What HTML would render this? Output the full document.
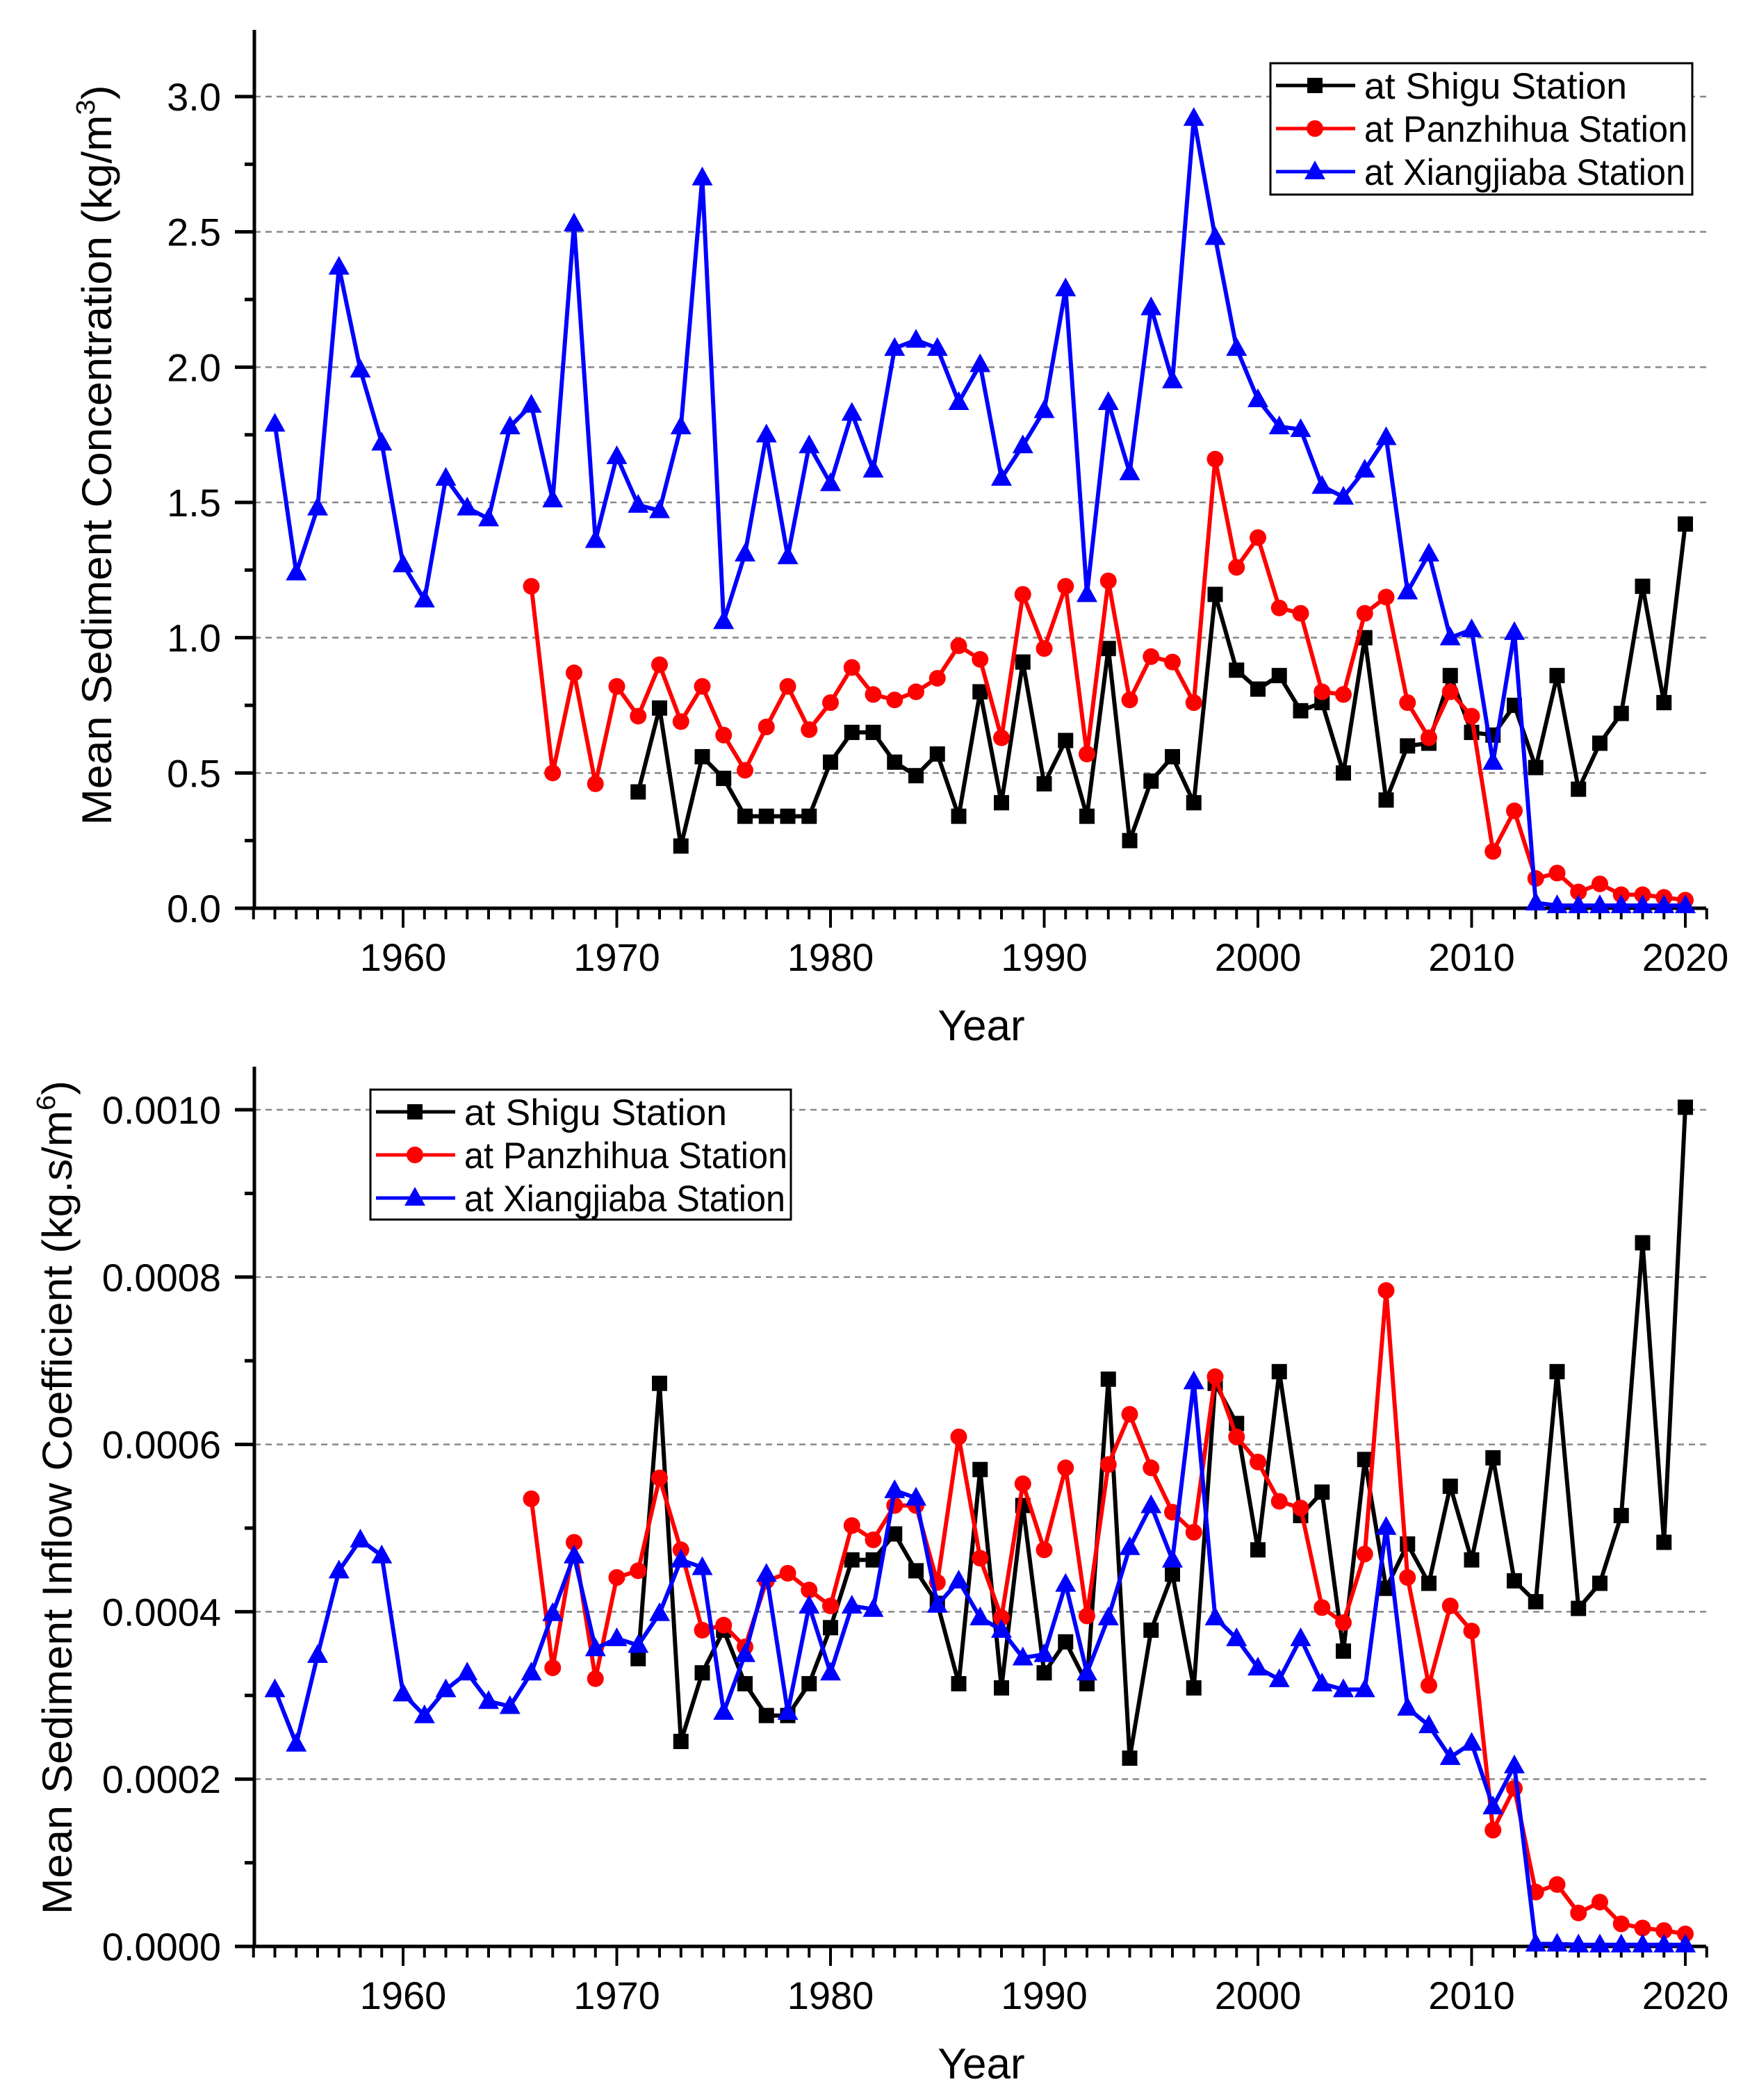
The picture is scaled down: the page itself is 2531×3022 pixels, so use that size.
<!DOCTYPE html>
<html><head><meta charset="utf-8">
<style>
html,body{margin:0;padding:0;background:#fff;}
svg{display:block;font-family:"Liberation Sans",Arial,sans-serif;}
</style></head>
<body>
<svg id="chart" width="2531" height="3022" viewBox="0 0 2531 3022" xmlns="http://www.w3.org/2000/svg">
<rect width="2531" height="3022" fill="#fff"/>
<g id="top"></g>
<g id="bot"></g>
</svg>
<script>
var NS="http://www.w3.org/2000/svg";
var years=[];for(var y=1954;y<=2020;y++)years.push(y);
var xTickLabels=["1960","1970","1980","1990","2000","2010","2020"];
var topYTicks=["0.0","0.5","1.0","1.5","2.0","2.5","3.0"];
var botYTicks=["0.0000","0.0002","0.0004","0.0006","0.0008","0.0010"];
var seriesNames=["at Shigu Station","at Panzhihua Station","at Xiangjiaba Station"];
// Top chart: concentration (kg/m3)
var concXiangjiaba=[1.79,1.24,1.48,2.37,1.99,1.72,1.27,1.14,1.59,1.48,1.44,1.78,1.86,1.51,2.53,1.36,1.67,1.49,1.47,1.78,2.70,1.06,1.31,1.75,1.30,1.71,1.57,1.83,1.62,2.07,2.10,2.07,1.87,2.01,1.59,1.71,1.84,2.29,1.16,1.87,1.61,2.22,1.95,2.92,2.48,2.07,1.88,1.78,1.77,1.56,1.52,1.62,1.74,1.17,1.31,1.00,1.03,0.54,1.02,0.02,0.01,0.01,0.01,0.01,0.01,0.01,0.01];
var concPanzhihua=[null,null,null,null,null,null,null,null,null,null,null,null,1.19,0.50,0.87,0.46,0.82,0.71,0.90,0.69,0.82,0.64,0.51,0.67,0.82,0.66,0.76,0.89,0.79,0.77,0.80,0.85,0.97,0.92,0.63,1.16,0.96,1.19,0.57,1.21,0.77,0.93,0.91,0.76,1.66,1.26,1.37,1.11,1.09,0.80,0.79,1.09,1.15,0.76,0.63,0.80,0.71,0.21,0.36,0.11,0.13,0.06,0.09,0.05,0.05,0.04,0.03];
var concShigu=[null,null,null,null,null,null,null,null,null,null,null,null,null,null,null,null,null,0.43,0.74,0.23,0.56,0.48,0.34,0.34,0.34,0.34,0.54,0.65,0.65,0.54,0.49,0.57,0.34,0.80,0.39,0.91,0.46,0.62,0.34,0.96,0.25,0.47,0.56,0.39,1.16,0.88,0.81,0.86,0.73,0.76,0.50,1.00,0.40,0.60,0.61,0.86,0.65,0.64,0.75,0.52,0.86,0.44,0.61,0.72,1.19,0.76,1.42];
// Bottom chart: coefficient (x1e-4)
var coefXiangjiaba=[3.07,2.42,3.48,4.49,4.86,4.67,3.02,2.76,3.07,3.27,2.93,2.87,3.27,3.98,4.67,3.56,3.68,3.60,3.98,4.62,4.53,2.80,3.49,4.45,2.80,4.07,3.27,4.07,4.03,5.45,5.36,4.08,4.37,3.93,3.78,3.45,3.49,4.33,3.27,3.93,4.77,5.27,4.62,6.75,3.93,3.68,3.33,3.19,3.68,3.14,3.07,3.07,5.01,2.85,2.64,2.26,2.43,1.67,2.16,0.03,0.03,0.02,0.02,0.02,0.02,0.02,0.02];
var coefPanzhihua=[null,null,null,null,null,null,null,null,null,null,null,null,5.35,3.33,4.83,3.20,4.41,4.49,5.60,4.74,3.78,3.84,3.58,4.37,4.46,4.26,4.07,5.03,4.86,5.27,5.27,4.35,6.09,4.64,3.93,5.53,4.74,5.72,3.95,5.76,6.36,5.72,5.19,4.95,6.81,6.09,5.79,5.32,5.24,4.05,3.87,4.69,7.84,4.41,3.12,4.07,3.77,1.39,1.89,0.65,0.74,0.40,0.53,0.27,0.22,0.19,0.15];
var coefShigu=[null,null,null,null,null,null,null,null,null,null,null,null,null,null,null,null,null,3.44,6.73,2.45,3.27,3.78,3.14,2.76,2.76,3.14,3.81,4.62,4.62,4.93,4.49,4.10,3.14,5.70,3.09,5.27,3.27,3.64,3.14,6.78,2.25,3.78,4.45,3.09,6.73,6.25,4.74,6.87,5.15,5.43,3.53,5.82,4.28,4.81,4.34,5.50,4.62,5.84,4.37,4.12,6.87,4.04,4.34,5.15,8.41,4.83,10.03];

function mk(parent,tag,attrs,text){var e=document.createElementNS(NS,tag);for(var k in attrs)e.setAttribute(k,attrs[k]);if(text!==undefined)e.textContent=text;parent.appendChild(e);return e;}
var X0=366,X1=2455;
function xs(yr){return 580+(yr-1960)*30.75;}
var colors=["#000","#f00","#00f"];
function marker(g,kind,cx,cy,c){
  var m;
  if(kind===0){m=mk(g,"rect",{x:cx-11,y:cy-11,width:22,height:22,fill:c});}
  else if(kind===1){m=mk(g,"circle",{cx:cx,cy:cy,r:12,fill:c});}
  else{m=mk(g,"polygon",{points:(cx)+","+(cy-16)+" "+(cx-15)+","+(cy+11)+" "+(cx+15)+","+(cy+11),fill:c});}
  return m;
}
function drawChart(g,cfg){
  var ys=function(v){return cfg.y0-(v-cfg.vmin)/(cfg.vmax-cfg.vmin)*(cfg.y0-cfg.yTop);};
  for(var i=1;i<cfg.ticks.length;i++){
    var v=cfg.vmin+i*cfg.step;
    var gl=mk(g,"line",{x1:X0,x2:X1,y1:ys(v),y2:ys(v),stroke:"#888","stroke-width":2.5,"stroke-dasharray":"9,7"});
    
    
  }
  var ya=mk(g,"line",{x1:X0,x2:X0,y1:cfg.axTop,y2:cfg.y0+2,stroke:"#000","stroke-width":5});
  
  
  var xa=mk(g,"line",{x1:X0-2,x2:X1,y1:cfg.y0,y2:cfg.y0,stroke:"#000","stroke-width":5});
  
  
  for(var i=0;i<cfg.ticks.length;i++){
    var v=cfg.vmin+i*cfg.step,yy=ys(v);
    mk(g,"line",{x1:X0-28,x2:X0,y1:yy,y2:yy,stroke:"#000","stroke-width":5});
    var t=mk(g,"text",{x:318,y:yy+20,"font-size":56,"text-anchor":"end",fill:"#000"},cfg.ticks[i]);
    
    
    var vm=v+cfg.step/2;
    var ym=ys(vm);if(ym>cfg.axTop)mk(g,"line",{x1:X0-14,x2:X0,y1:ym,y2:ym,stroke:"#000","stroke-width":5});
  }
  for(var yr=1953;yr<=2021;yr++){
    var major=(yr%10===0);
    mk(g,"line",{x1:xs(yr),x2:xs(yr),y1:cfg.y0,y2:cfg.y0+(major?28:16),stroke:"#000","stroke-width":4});
  }
  for(var i=0;i<xTickLabels.length;i++){
    var t=mk(g,"text",{x:xs(+xTickLabels[i]),y:cfg.y0+90,"font-size":56,"text-anchor":"middle",fill:"#000"},xTickLabels[i]);
    
    
  }
  var xt=mk(g,"text",{x:1412,y:cfg.y0+190,"font-size":62,"text-anchor":"middle",fill:"#000"},"Year");
  
  
  var yt=mk(g,"text",{x:0,y:0,"font-size":60,"text-anchor":"middle",fill:"#000",transform:"translate("+cfg.titleX+","+cfg.titleY+") rotate(-90)",textLength:cfg.titleLen,lengthAdjust:"spacingAndGlyphs"});
  yt.appendChild(document.createTextNode(cfg.title));
  mk(yt,"tspan",{"font-size":38,dy:-24},cfg.sup);
  mk(yt,"tspan",{dy:24},")");
  
  
  for(var s=0;s<3;s++){
    var data=cfg.series[s],sg=mk(g,"g",{});
    
    
    var d="";
    for(var i=0;i<years.length;i++){if(data[i]==null)continue;d+=(d?"L":"M")+xs(years[i]).toFixed(1)+","+ys(data[i]).toFixed(1);}
    mk(sg,"path",{d:d,fill:"none",stroke:colors[s],"stroke-width":6,"stroke-linejoin":"round"});
    for(var i=0;i<years.length;i++){if(data[i]==null)continue;
      var m=marker(sg,s,xs(years[i]),ys(data[i]),colors[s]);
      
      
    }
  }
  var L=cfg.leg,lg=mk(g,"g",{});
  
  
  mk(lg,"rect",{x:L.x,y:L.y,width:L.w,height:L.h,fill:"#fff",stroke:"#000","stroke-width":3});
  for(var s=0;s<3;s++){
    var ry=L.y+32+s*62,e=mk(lg,"g",{});
    
    
    mk(e,"line",{x1:L.x+8,x2:L.x+122,y1:ry,y2:ry,stroke:colors[s],"stroke-width":5});
    marker(e,s,L.x+64,ry,colors[s]);
    mk(e,"text",{x:L.x+135,y:ry+19,"font-size":53,fill:"#000",textLength:cfg.legLens[s],lengthAdjust:"spacingAndGlyphs"},seriesNames[s]);
  }
}
drawChart(document.getElementById("top"),{y0:1307,yTop:139,axTop:43,vmin:0,vmax:3,step:0.5,ticks:topYTicks,
  series:[concShigu,concPanzhihua,concXiangjiaba],title:"Mean Sediment Concentration (kg/m",sup:"3",
  titleX:160,titleY:655,titleLen:1065,leg:{x:1828,y:91,w:607,h:189},legLens:[378,465,462]});
drawChart(document.getElementById("bot"),{y0:2801,yTop:1597,axTop:1535,vmin:0,vmax:10,step:2,ticks:botYTicks,
  series:[coefShigu,coefPanzhihua,coefXiangjiaba],title:"Mean Sediment Inflow Coefficient (kg.s/m",sup:"6",
  titleX:103,titleY:2155,titleLen:1200,leg:{x:533,y:1568,w:605,h:187},legLens:[378,465,462]});
</script>
</body></html>
